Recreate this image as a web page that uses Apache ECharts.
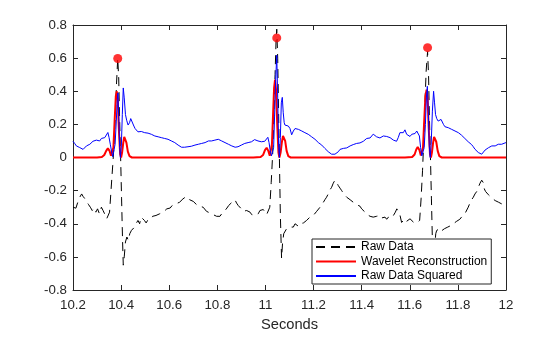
<!DOCTYPE html>
<html>
<head>
<meta charset="utf-8">
<script src="https://cdn.jsdelivr.net/npm/echarts@6/dist/echarts.min.js"></script>
<style>html,body{margin:0;padding:0;background:#fff;overflow:hidden;}#c{width:560px;height:337px;}</style>
</head>
<body>
<div id="c"></div>
<script>
// ---------- data ----------
const xTickLabels = ['10.2','10.4','10.6','10.8','11','11.2','11.4','11.6','11.8','12'];
const yTickLabels = ['-0.8','-0.6','-0.4','-0.2','0','0.2','0.4','0.6','0.8'];
const seriesNames = ['Raw Data','Wavelet Reconstruction','Raw Data Squared'];

const rawT = [10.200,10.212,10.220,10.228,10.236,10.242,10.250,10.258,10.265,10.272,10.280,10.288,10.295,10.302,10.310,10.318,10.325,10.333,10.340,10.346,10.352,10.358,10.365,10.370,10.376,10.381,10.386,10.390,10.394,10.398,10.402,10.406,10.409,10.413,10.418,10.424,10.430,10.436,10.443,10.450,10.456,10.462,10.470,10.477,10.483,10.490,10.497,10.504,10.510,10.517,10.524,10.531,10.538,10.545,10.552,10.560,10.567,10.575,10.582,10.590,10.597,10.604,10.612,10.620,10.628,10.636,10.643,10.650,10.657,10.664,10.671,10.678,10.685,10.692,10.700,10.707,10.714,10.720,10.727,10.734,10.741,10.748,10.755,10.762,10.769,10.776,10.783,10.790,10.797,10.804,10.811,10.818,10.825,10.832,10.840,10.847,10.854,10.861,10.868,10.873,10.880,10.887,10.894,10.900,10.907,10.915,10.922,10.929,10.936,10.943,10.950,10.957,10.963,10.970,10.977,10.984,10.991,10.998,11.005,11.012,11.018,11.024,11.030,11.035,11.040,11.044,11.047,11.051,11.055,11.058,11.062,11.067,11.071,11.076,11.081,11.088,11.095,11.102,11.109,11.116,11.123,11.130,11.137,11.144,11.151,11.158,11.165,11.171,11.178,11.185,11.192,11.199,11.206,11.213,11.220,11.227,11.234,11.241,11.247,11.254,11.261,11.268,11.275,11.282,11.289,11.296,11.303,11.310,11.317,11.324,11.331,11.338,11.345,11.352,11.358,11.365,11.372,11.379,11.386,11.393,11.400,11.407,11.414,11.421,11.428,11.435,11.442,11.448,11.455,11.462,11.469,11.476,11.483,11.490,11.497,11.504,11.511,11.518,11.525,11.532,11.540,11.546,11.552,11.558,11.566,11.573,11.580,11.587,11.594,11.601,11.608,11.615,11.622,11.629,11.635,11.641,11.647,11.653,11.658,11.663,11.668,11.674,11.678,11.682,11.686,11.690,11.694,11.698,11.703,11.708,11.712,11.718,11.724,11.730,11.737,11.744,11.751,11.758,11.765,11.772,11.781,11.788,11.795,11.802,11.808,11.815,11.822,11.829,11.836,11.843,11.850,11.857,11.864,11.871,11.878,11.885,11.892,11.899,11.905,11.910,11.915,11.920,11.927,11.934,11.941,11.948,11.955,11.962,11.969,11.975,11.982,11.989,11.996,12.000];
const rawV = [-0.30,-0.306,-0.27,-0.24,-0.22,-0.235,-0.25,-0.27,-0.285,-0.30,-0.32,-0.305,-0.33,-0.31,-0.34,-0.30,-0.32,-0.345,-0.37,-0.38,-0.33,-0.20,-0.05,0.06,0.25,0.45,0.60,0.48,0.22,0.0,-0.25,-0.50,-0.65,-0.60,-0.51,-0.48,-0.50,-0.46,-0.44,-0.45,-0.42,-0.40,-0.38,-0.40,-0.36,-0.37,-0.38,-0.395,-0.38,-0.37,-0.375,-0.355,-0.36,-0.35,-0.355,-0.34,-0.345,-0.33,-0.335,-0.31,-0.30,-0.305,-0.29,-0.295,-0.28,-0.285,-0.27,-0.26,-0.25,-0.24,-0.235,-0.245,-0.255,-0.25,-0.265,-0.27,-0.285,-0.28,-0.295,-0.29,-0.30,-0.31,-0.325,-0.32,-0.335,-0.33,-0.345,-0.34,-0.355,-0.35,-0.355,-0.34,-0.33,-0.32,-0.305,-0.29,-0.28,-0.27,-0.26,-0.255,-0.275,-0.29,-0.294,-0.31,-0.325,-0.333,-0.32,-0.31,-0.33,-0.345,-0.335,-0.35,-0.355,-0.34,-0.32,-0.33,-0.314,-0.33,-0.345,-0.343,-0.30,-0.15,0.02,0.25,0.50,0.70,0.775,0.60,0.25,0.0,-0.35,-0.608,-0.52,-0.46,-0.45,-0.43,-0.44,-0.42,-0.41,-0.42,-0.40,-0.41,-0.415,-0.40,-0.39,-0.395,-0.385,-0.38,-0.37,-0.36,-0.355,-0.35,-0.34,-0.325,-0.314,-0.30,-0.285,-0.27,-0.255,-0.24,-0.22,-0.196,-0.18,-0.155,-0.137,-0.15,-0.17,-0.185,-0.20,-0.216,-0.225,-0.24,-0.245,-0.255,-0.255,-0.27,-0.275,-0.285,-0.29,-0.294,-0.31,-0.32,-0.33,-0.343,-0.35,-0.355,-0.345,-0.36,-0.363,-0.355,-0.36,-0.35,-0.365,-0.37,-0.36,-0.373,-0.36,-0.355,-0.365,-0.35,-0.33,-0.31,-0.304,-0.34,-0.392,-0.38,-0.37,-0.385,-0.375,-0.37,-0.38,-0.39,-0.38,-0.395,-0.402,-0.38,-0.25,-0.08,0.10,0.32,0.52,0.64,0.50,0.22,0.0,-0.25,-0.50,-0.63,-0.55,-0.46,-0.44,-0.45,-0.43,-0.445,-0.44,-0.43,-0.425,-0.42,-0.415,-0.41,-0.40,-0.39,-0.385,-0.38,-0.373,-0.36,-0.35,-0.34,-0.333,-0.30,-0.275,-0.255,-0.24,-0.22,-0.206,-0.18,-0.155,-0.137,-0.15,-0.19,-0.205,-0.216,-0.225,-0.235,-0.245,-0.255,-0.26,-0.265,-0.27,-0.275,-0.28,-0.29,-0.294,-0.30];

const waveT = [10.200,10.300,10.320,10.330,10.338,10.345,10.352,10.358,10.363,10.368,10.373,10.378,10.382,10.386,10.391,10.396,10.400,10.404,10.409,10.413,10.417,10.422,10.428,10.435,10.445,10.950,10.980,10.990,10.998,11.005,11.012,11.018,11.022,11.027,11.032,11.036,11.040,11.044,11.049,11.054,11.058,11.063,11.068,11.073,11.077,11.082,11.088,11.095,11.105,11.580,11.610,11.620,11.627,11.633,11.640,11.646,11.650,11.655,11.660,11.665,11.670,11.674,11.679,11.684,11.688,11.692,11.697,11.701,11.705,11.710,11.716,11.723,11.733,12.000];
const waveV = [0,0,0.003,0.015,0.040,0.055,0.040,0.010,0.002,0.060,0.220,0.370,0.400,0.350,0.160,0.020,0.000,0.030,0.090,0.125,0.127,0.090,0.035,0.008,0,0,0.003,0.015,0.045,0.059,0.040,0.010,0.002,0.080,0.270,0.420,0.470,0.410,0.200,0.030,0.000,0.030,0.090,0.130,0.137,0.100,0.040,0.008,0,0,0.003,0.018,0.048,0.063,0.045,0.012,0.002,0.060,0.220,0.370,0.410,0.360,0.170,0.020,0.000,0.030,0.090,0.125,0.131,0.095,0.040,0.008,0,0];

const sqT = [10.200,10.207,10.214,10.221,10.228,10.235,10.242,10.249,10.256,10.263,10.270,10.277,10.283,10.290,10.297,10.304,10.311,10.318,10.325,10.332,10.339,10.345,10.350,10.355,10.360,10.365,10.370,10.375,10.380,10.384,10.387,10.390,10.394,10.397,10.401,10.405,10.409,10.413,10.418,10.423,10.429,10.435,10.440,10.447,10.453,10.458,10.463,10.470,10.477,10.484,10.491,10.498,10.505,10.512,10.519,10.526,10.533,10.540,10.547,10.554,10.560,10.567,10.574,10.581,10.588,10.595,10.602,10.609,10.616,10.623,10.630,10.637,10.644,10.651,10.657,10.664,10.671,10.678,10.685,10.692,10.700,10.707,10.714,10.721,10.728,10.735,10.742,10.749,10.756,10.763,10.769,10.776,10.783,10.790,10.797,10.804,10.811,10.818,10.825,10.832,10.839,10.846,10.853,10.860,10.867,10.874,10.879,10.886,10.893,10.900,10.907,10.914,10.921,10.928,10.935,10.942,10.949,10.955,10.962,10.969,10.976,10.983,10.990,10.997,11.004,11.010,11.015,11.020,11.025,11.030,11.034,11.038,11.042,11.047,11.051,11.055,11.058,11.062,11.066,11.070,11.074,11.078,11.081,11.088,11.095,11.102,11.109,11.116,11.123,11.130,11.137,11.144,11.151,11.157,11.164,11.171,11.178,11.185,11.192,11.199,11.206,11.213,11.220,11.227,11.234,11.240,11.247,11.254,11.261,11.268,11.275,11.282,11.289,11.296,11.303,11.310,11.317,11.324,11.331,11.338,11.345,11.352,11.358,11.365,11.372,11.379,11.386,11.393,11.400,11.407,11.414,11.421,11.428,11.435,11.442,11.448,11.455,11.462,11.469,11.476,11.483,11.490,11.497,11.504,11.511,11.518,11.525,11.532,11.539,11.545,11.552,11.559,11.566,11.573,11.580,11.587,11.594,11.601,11.608,11.615,11.622,11.629,11.635,11.640,11.645,11.650,11.655,11.660,11.665,11.669,11.673,11.677,11.681,11.685,11.689,11.694,11.699,11.703,11.707,11.712,11.718,11.724,11.730,11.733,11.740,11.746,11.753,11.760,11.767,11.774,11.781,11.788,11.795,11.802,11.809,11.815,11.822,11.829,11.836,11.843,11.850,11.857,11.864,11.871,11.878,11.885,11.892,11.899,11.906,11.913,11.920,11.927,11.934,11.941,11.948,11.955,11.961,11.968,11.975,11.982,11.989,11.996,12.000];
const sqV = [0.098,0.085,0.07,0.075,0.06,0.055,0.049,0.06,0.07,0.065,0.08,0.09,0.098,0.09,0.105,0.11,0.10,0.115,0.108,0.12,0.13,0.151,0.12,0.08,0.04,0.005,0.01,0.08,0.22,0.35,0.39,0.25,0.06,0.0,0.07,0.26,0.42,0.36,0.26,0.225,0.196,0.21,0.235,0.231,0.19,0.175,0.167,0.155,0.16,0.157,0.145,0.15,0.155,0.147,0.151,0.14,0.135,0.13,0.135,0.125,0.127,0.12,0.125,0.115,0.118,0.11,0.105,0.10,0.098,0.09,0.085,0.075,0.07,0.062,0.059,0.062,0.058,0.065,0.06,0.068,0.069,0.075,0.07,0.08,0.075,0.085,0.078,0.09,0.095,0.10,0.108,0.10,0.112,0.105,0.115,0.11,0.108,0.10,0.095,0.09,0.085,0.08,0.075,0.07,0.065,0.062,0.059,0.065,0.07,0.075,0.08,0.085,0.078,0.09,0.10,0.095,0.105,0.108,0.11,0.10,0.105,0.095,0.10,0.098,0.11,0.122,0.09,0.04,0.01,0.0,0.06,0.25,0.45,0.618,0.36,0.06,0.0,0.12,0.33,0.363,0.27,0.21,0.196,0.185,0.19,0.175,0.137,0.16,0.175,0.186,0.17,0.165,0.16,0.157,0.15,0.145,0.14,0.137,0.125,0.115,0.11,0.098,0.09,0.08,0.075,0.069,0.055,0.045,0.035,0.025,0.02,0.022,0.02,0.028,0.035,0.049,0.045,0.055,0.06,0.058,0.065,0.07,0.075,0.078,0.08,0.085,0.09,0.088,0.095,0.098,0.11,0.115,0.12,0.118,0.13,0.141,0.13,0.125,0.13,0.118,0.125,0.13,0.12,0.127,0.125,0.12,0.11,0.105,0.10,0.098,0.12,0.15,0.16,0.15,0.167,0.14,0.135,0.127,0.14,0.15,0.145,0.16,0.167,0.13,0.06,0.01,0.0,0.06,0.2,0.36,0.43,0.28,0.07,0.0,0.08,0.28,0.40,0.33,0.26,0.235,0.22,0.215,0.23,0.225,0.2,0.186,0.19,0.18,0.176,0.17,0.165,0.16,0.157,0.15,0.14,0.135,0.127,0.115,0.105,0.095,0.085,0.078,0.065,0.05,0.04,0.03,0.025,0.02,0.03,0.045,0.05,0.059,0.065,0.07,0.075,0.07,0.078,0.08,0.085,0.08,0.09,0.088,0.09];

const peakT = [10.386, 11.047, 11.674];
const peakV = [0.598, 0.722, 0.663];

// ---------- chart ----------
const zip = (a, b) => a.map((t, i) => [t, b[i]]);
const axisColor = '#262626';
const font = 'Liberation Sans, Arial, Helvetica, sans-serif';

const xBase = {
  type: 'value', min: 10.2, max: 12, interval: 0.2,
  axisLine: { show: true, onZero: false, lineStyle: { color: axisColor, width: 1 } },
  axisTick: { show: true, inside: true, length: 5, lineStyle: { color: axisColor } },
  splitLine: { show: false }
};
const yBase = {
  type: 'value', min: -0.8, max: 0.8, interval: 0.2,
  axisLine: { show: true, onZero: false, lineStyle: { color: axisColor, width: 1 } },
  axisTick: { show: true, inside: true, length: 5, lineStyle: { color: axisColor } },
  splitLine: { show: false }
};

const chart = echarts.init(document.getElementById('c'), null, { renderer: 'canvas' });
chart.setOption({
  animation: false,
  backgroundColor: '#fff',
  textStyle: { fontFamily: font },
  grid: { left: 73, right: 54, top: 25, bottom: 41, containLabel: false },
  xAxis: [
    Object.assign({}, xBase, {
      position: 'bottom',
      axisLabel: { show: true, margin: 9, color: axisColor, fontSize: 13.3, fontFamily: font,
        formatter: v => xTickLabels[Math.round((v - 10.2) / 0.2)] },
      name: 'Seconds', nameLocation: 'middle', nameGap: 27,
      nameTextStyle: { color: axisColor, fontSize: 14.7, fontFamily: font }
    }),
    Object.assign({}, xBase, { position: 'top', axisLabel: { show: false } })
  ],
  yAxis: [
    Object.assign({}, yBase, {
      position: 'left',
      axisLabel: { show: true, margin: 6, color: axisColor, fontSize: 13.3, fontFamily: font,
        formatter: v => yTickLabels[Math.round((v + 0.8) / 0.2)] }
    }),
    Object.assign({}, yBase, { position: 'right', axisLabel: { show: false } })
  ],
  legend: {
    data: seriesNames,
    orient: 'vertical',
    left: 312, top: 239,
    padding: [2, 4, 2, 3],
    itemWidth: 40, itemHeight: 12, itemGap: 2.5,
    itemStyle: { opacity: 0 },
    backgroundColor: '#fff',
    borderColor: axisColor, borderWidth: 1,
    textStyle: { color: '#000', fontSize: 12, fontFamily: font, lineHeight: 12 }
  },
  series: [
    { name: seriesNames[0], type: 'line', data: zip(rawT, rawV), symbol: 'none', z: 2,
      lineStyle: { color: '#000', width: 1, type: [9, 6] }, itemStyle: { color: '#000' } },
    { name: seriesNames[1], type: 'line', data: zip(waveT, waveV), symbol: 'none', z: 3,
      lineStyle: { color: '#ff0000', width: 2 }, itemStyle: { color: '#ff0000' } },
    { name: seriesNames[2], type: 'line', data: zip(sqT, sqV), symbol: 'none', z: 4,
      lineStyle: { color: '#0000ff', width: 1 }, itemStyle: { color: '#0000ff' } },
    { name: 'peaks', type: 'scatter', data: zip(peakT, peakV), symbol: 'circle', symbolSize: 9, z: 5,
      itemStyle: { color: '#ff0000', borderColor: '#ff0000', borderWidth: 0 } }
  ]
});
</script>
</body>
</html>
